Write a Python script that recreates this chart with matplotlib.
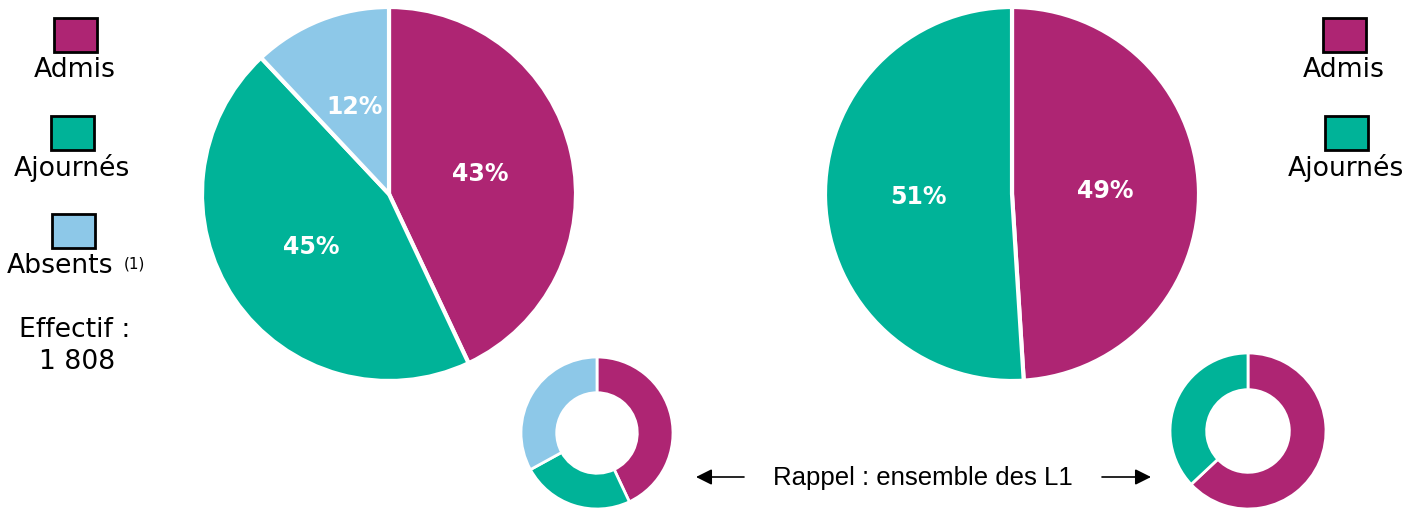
import matplotlib
matplotlib.use('Agg')
import matplotlib.pyplot as plt
from matplotlib.patches import Rectangle

# Data
categories = ["Admis", "Ajournés", "Absents"]
colors = {"Admis": "#AE2573", "Ajournés": "#00B398", "Absents": "#8DC8E8"}

left_values = [43, 45, 12]          # Admis, Ajournés, Absents
right_values = [49, 51]             # Admis, Ajournés
left_ref_values = [43, 24, 33]      # rappel ensemble des L1
right_ref_values = [63, 37]
effectif = "1 808"

W, H = 1408, 508
fig = plt.figure(figsize=(W / 100, H / 100), dpi=100)


def px_axes(cx, cy, r):
    """Axes box (figure fraction) for a pie of radius r centred at pixel (cx, cy)."""
    return fig.add_axes([(cx - r) / W, (H - cy - r) / H, 2 * r / W, 2 * r / H])


def draw_pie(ax, values, labels, with_pct=True, hole=None, lw=2.5):
    cols = [colors[l] for l in labels]
    wedgeprops = dict(edgecolor="white", linewidth=lw)
    if hole is not None:
        wedgeprops["width"] = hole
    kw = {}
    if with_pct:
        kw = dict(autopct="%d%%", pctdistance=0.5,
                  textprops=dict(color="white", fontsize=17, fontweight="bold"))
    ax.pie(values, colors=cols, startangle=90, counterclock=False,
           wedgeprops=wedgeprops, radius=1, **kw)
    ax.set_xlim(-1, 1)
    ax.set_ylim(-1, 1)
    ax.set_aspect("equal")
    ax.axis("off")


# Main pies
ax1 = px_axes(389, 194, 187)
draw_pie(ax1, left_values, categories, lw=3)
ax2 = px_axes(1012, 194, 187)
draw_pie(ax2, right_values, categories[:2], lw=3)

# Reference donuts
ax3 = px_axes(597, 433, 76)
draw_pie(ax3, left_ref_values, categories, with_pct=False, hole=0.47, lw=2)
ax4 = px_axes(1248, 431, 78)
draw_pie(ax4, right_ref_values, categories[:2], with_pct=False, hole=0.47, lw=2)

# Overlay for legends and annotations (pixel coordinates)
ov = fig.add_axes([0, 0, 1, 1], zorder=-1)
ov.set_xlim(0, W)
ov.set_ylim(H, 0)
ov.axis("off")

legend_fs = 19.2


def legend_item(x, y, label, text_x=None):
    ov.add_patch(Rectangle((x - 21.5, y - 17), 43, 34, facecolor=colors[label],
                           edgecolor="black", linewidth=2))
    ov.text(x if text_x is None else text_x, y + 35, label,
            ha="center", va="center", fontsize=legend_fs)


legend_item(75, 35, "Admis")
legend_item(72, 133, "Ajournés")
legend_item(73, 231, "Absents", text_x=60)
ov.text(134, 264, "(1)", ha="center", va="center", fontsize=11)
ov.text(75, 330, "Effectif :", ha="center", va="center", fontsize=legend_fs)
ov.text(77, 362, effectif, ha="center", va="center", fontsize=legend_fs)

legend_item(1344, 35, "Admis")
legend_item(1346, 133, "Ajournés")

# Rappel text and arrows
ov.text(923, 478, "Rappel : ensemble des L1", ha="center", va="center",
        fontsize=18.5, family="Liberation Sans")
ov.annotate("", xy=(696, 477), xytext=(744, 477),
            arrowprops=dict(arrowstyle="-|>", color="black", lw=1.2,
                            mutation_scale=24, shrinkA=0, shrinkB=0))
ov.annotate("", xy=(1151, 477), xytext=(1102, 477),
            arrowprops=dict(arrowstyle="-|>", color="black", lw=1.2,
                            mutation_scale=24, shrinkA=0, shrinkB=0))

fig.savefig("out.png", dpi=100)
